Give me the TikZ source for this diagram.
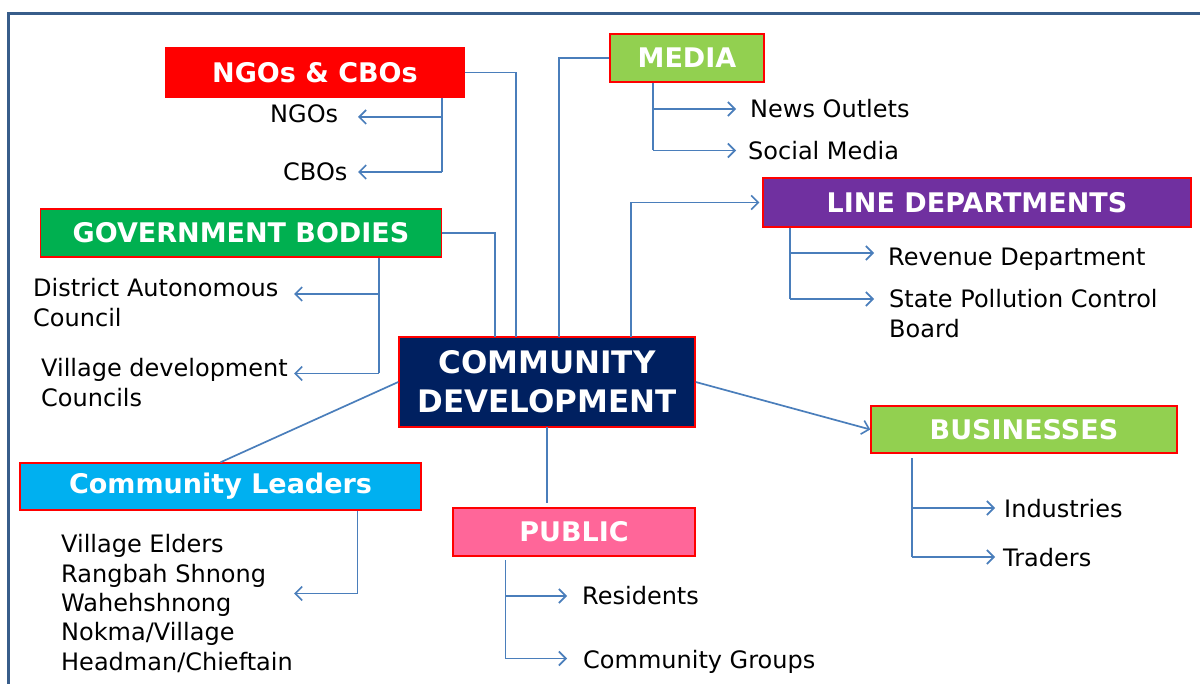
\documentclass[tikz,border=0pt]{standalone}
\usepackage{fontspec}
\setmainfont{DejaVu Sans}
\usetikzlibrary{arrows.meta,calc}
\definecolor{frameblue}{HTML}{385D8A}
\definecolor{connblue}{HTML}{4A7EBB}
\definecolor{lgreen}{HTML}{92D050}
\definecolor{dgreen}{HTML}{00B050}
\definecolor{purp}{HTML}{7030A0}
\definecolor{navy}{HTML}{002060}
\definecolor{cyanb}{HTML}{00B0F0}
\definecolor{pinkb}{HTML}{FF6699}
\begin{document}
\begin{tikzpicture}[x=1pt,y=-1pt,
  box/.style={draw=red, line width=1.4pt, text=white, inner sep=0pt,
    font=\bfseries\fontsize{27}{32}\selectfont},
  conn/.style={draw=connblue, line width=1.7pt},
  arr/.style={conn, -{Straight Barb[length=7pt,width=14pt,line width=1.6pt]}},
  lbl/.style={anchor=base west, inner sep=0pt, align=left,
    font=\fontsize{24}{29.5}\selectfont}]
\useasboundingbox (0,0) rectangle (1200,684);
% frame
\draw[frameblue, line width=3pt] (8.5,684) -- (8.5,13.5) -- (1200,13.5);

% main boxes
\node[box, fill=red, draw=red, minimum width=298pt, minimum height=49pt] (ngo) at (315,72.5) {NGOs \& CBOs};
\node[box, fill=lgreen, minimum width=154pt, minimum height=48pt] (media) at (687,58) {MEDIA};
\node[box, fill=purp, minimum width=428pt, minimum height=49pt] (line) at (977,202.5) {LINE DEPARTMENTS};
\node[box, fill=dgreen, minimum width=401pt, minimum height=48pt] (gov) at (241,233) {GOVERNMENT BODIES};
\node[box, fill=navy, minimum width=296pt, minimum height=90pt, align=center,
  font=\bfseries\fontsize{31}{39}\selectfont] (cd) at (547,382) {COMMUNITY\\DEVELOPMENT};
\node[box, fill=lgreen, minimum width=306pt, minimum height=47pt] (bus) at (1024,429.5) {BUSINESSES};
\node[box, fill=cyanb, minimum width=401pt, minimum height=47pt] (cl) at (220.5,486.5) {Community Leaders};
\node[box, fill=pinkb, minimum width=242pt, minimum height=48pt] (pub) at (574,532) {PUBLIC};

% anchor coordinates on the central box
\coordinate (cdA) at (516,337);
\coordinate (cdB) at (559,337);
\coordinate (cdC) at (631,337);
\coordinate (cdD) at (495,337);
\coordinate (cdE) at (547,427);
\coordinate (pubTop) at (547,503);

% main connectors
\draw[conn] (ngo.east) -| (cdA);
\draw[conn] (media.west) -| (cdB);
\draw[arr, shorten >=3pt] (cdC) |- (line.west);
\draw[conn] (gov.east) -| (cdD);
\draw[conn] (cd.west) -- (cl.north);
\draw[arr] (cd.east) -- (bus.west);
\draw[conn] (cdE) -- (pubTop);

% labels (base = baseline of last line)
\node[lbl] (ngos) at (270,123) {NGOs};
\node[lbl] (cbos) at (283,181) {CBOs};
\node[lbl] (news) at (750,118) {News Outlets};
\node[lbl] (soc) at (748,159.5) {Social Media};
\node[lbl] (rev) at (888,266) {Revenue Department};
\node[lbl, font=\fontsize{24}{30}\selectfont] (spcb) at (889,338) {State Pollution Control\\Board};
\node[lbl, font=\fontsize{24}{30}\selectfont] (dac) at (33,327) {District Autonomous\\Council};
\node[lbl, font=\fontsize{24}{30}\selectfont] (vdc) at (41,407) {Village development\\Councils};
\node[lbl, font=\fontsize{24}{29.3}\selectfont] (cll) at (61,670) {Village Elders\\Rangbah Shnong\\Wahehshnong\\Nokma/Village\\Headman/Chieftain};
\node[lbl] (res) at (582,604) {Residents};
\node[lbl] (cg) at (583,668) {Community Groups};
\node[lbl] (ind) at (1004,517) {Industries};
\node[lbl] (tra) at (1003,566) {Traders};

% NGO branches
\coordinate (n1) at (442,117);
\coordinate (n2) at (442,172);
\draw[conn] (ngo.south -| n1) -- (n2);
\draw[arr] (n1) -- (358,117);
\draw[arr] (n2) -- (358,172);

% Media branches
\coordinate (m1) at (653,109);
\coordinate (m2) at (653,150.5);
\draw[conn] (media.south -| m1) -- (m2);
\draw[arr] (m1) -- (736,109);
\draw[arr] (m2) -- (736,150.5);

% Line dept branches
\coordinate (l1) at (790,253);
\coordinate (l2) at (790,299);
\draw[conn] (line.south -| l1) -- (l2);
\draw[arr] (l1) -- (874,253);
\draw[arr] (l2) -- (874,299);

% Gov branches
\coordinate (g1) at (379,294);
\coordinate (g2) at (379,373.5);
\draw[conn] (gov.south -| g1) -- (g2);
\draw[arr] (g1) -- (294,294);
\draw[arr] (g2) -- (294,373.5);

% Community leaders branch
\coordinate (c1) at (357.5,593.5);
\draw[conn] (cl.south -| c1) -- (c1);
\draw[arr] (c1) -- (294,593.5);

% Public branches
\coordinate (p0) at (505.5,560);
\coordinate (p1) at (505.5,596);
\coordinate (p2) at (505.5,658.5);
\draw[conn] (p0) -- (p2);
\draw[arr] (p1) -- (567,596);
\draw[arr] (p2) -- (567,658.5);

% Business branches
\coordinate (b0) at (912,458);
\coordinate (b1) at (912,508);
\coordinate (b2) at (912,557);
\draw[conn] (b0) -- (b2);
\draw[arr] (b1) -- (995,508);
\draw[arr] (b2) -- (995,557);
\end{tikzpicture}
\end{document}
